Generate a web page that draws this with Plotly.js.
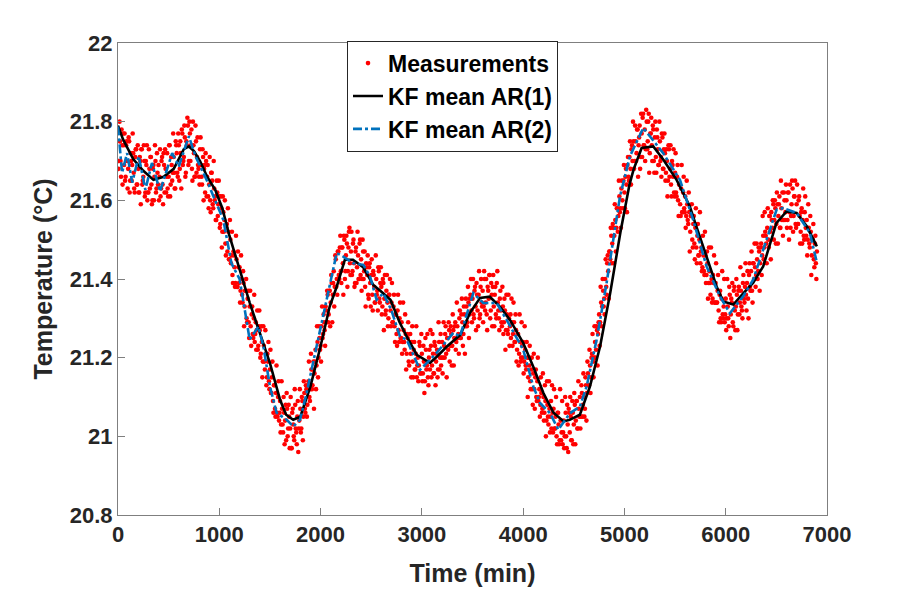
<!DOCTYPE html>
<html>
<head>
<meta charset="utf-8">
<script src="https://cdn.plot.ly/plotly-3.0.1.min.js"></script>
<style>
  html, body { margin: 0; padding: 0; background: #ffffff; }
  #chart { width: 913px; height: 589px; }
</style>
</head>
<body>
<div id="chart"></div>
<script>
// ─── Data ────────────────────────────────────────────────────────────────────

// Measurements, sampled every 10 min: set A at t = 0, 10, ... 6900
const measStep = 10;
const measTempA = [
  21.78, 21.70, 21.75, 21.66, 21.74, 21.77, 21.69, 21.65, 21.74, 21.70,
  21.68, 21.75, 21.65, 21.70, 21.69, 21.72, 21.63, 21.71, 21.73, 21.64,
  21.68, 21.62, 21.70, 21.73, 21.64, 21.66, 21.70, 21.62, 21.69, 21.60,
  21.62, 21.68, 21.71, 21.64, 21.60, 21.69, 21.66, 21.70, 21.63, 21.67,
  21.69, 21.66, 21.61, 21.70, 21.64, 21.72, 21.62, 21.68, 21.66, 21.63,
  21.66, 21.74, 21.64, 21.69, 21.67, 21.71, 21.63, 21.75, 21.72, 21.66,
  21.74, 21.68, 21.72, 21.78, 21.69, 21.71, 21.76, 21.67, 21.74, 21.79,
  21.70, 21.77, 21.74, 21.68, 21.80, 21.72, 21.66, 21.75, 21.71, 21.69,
  21.66, 21.73, 21.69, 21.64, 21.71, 21.68, 21.62, 21.70, 21.66, 21.61,
  21.64, 21.60, 21.67, 21.65, 21.58, 21.63, 21.61, 21.55, 21.62, 21.59,
  21.61, 21.54, 21.58, 21.52, 21.57, 21.55, 21.49, 21.53, 21.47, 21.52,
  21.45, 21.50, 21.46, 21.41, 21.47, 21.43, 21.39, 21.45, 21.38, 21.43,
  21.43, 21.37, 21.40, 21.34, 21.39, 21.33, 21.37, 21.30, 21.35, 21.29,
  21.33, 21.28, 21.31, 21.26, 21.30, 21.24, 21.29, 21.27, 21.22, 21.28,
  21.27, 21.21, 21.24, 21.19, 21.23, 21.17, 21.21, 21.15, 21.19, 21.14,
  21.17, 21.11, 21.15, 21.09, 21.13, 21.07, 21.11, 21.06, 21.10, 21.04,
  21.09, 21.03, 21.07, 21.01, 21.06, 21.04, 20.99, 21.07, 21.02, 21.05,
  21.02, 20.97, 21.06, 21.03, 20.99, 21.08, 21.01, 21.05, 20.96, 21.04,
  21.07, 21.02, 21.09, 21.05, 21.11, 21.06, 21.12, 21.08, 21.14, 21.10,
  21.12, 21.17, 21.13, 21.19, 21.16, 21.22, 21.18, 21.24, 21.20, 21.25,
  21.23, 21.28, 21.25, 21.31, 21.27, 21.33, 21.29, 21.36, 21.31, 21.37,
  21.34, 21.39, 21.36, 21.42, 21.38, 21.45, 21.40, 21.47, 21.41, 21.48,
  21.42, 21.48, 21.44, 21.51, 21.40, 21.46, 21.49, 21.42, 21.52, 21.44,
  21.47, 21.41, 21.49, 21.44, 21.39, 21.48, 21.43, 21.46, 21.40, 21.50,
  21.45, 21.40, 21.47, 21.42, 21.38, 21.44, 21.41, 21.36, 21.43, 21.39,
  21.41, 21.36, 21.42, 21.38, 21.34, 21.40, 21.37, 21.43, 21.35, 21.39,
  21.38, 21.33, 21.39, 21.35, 21.31, 21.37, 21.34, 21.30, 21.36, 21.32,
  21.34, 21.29, 21.33, 21.28, 21.31, 21.26, 21.32, 21.27, 21.30, 21.25,
  21.29, 21.24, 21.27, 21.22, 21.26, 21.21, 21.25, 21.19, 21.24, 21.21,
  21.24, 21.19, 21.22, 21.17, 21.21, 21.15, 21.20, 21.18, 21.23, 21.16,
  21.21, 21.16, 21.19, 21.14, 21.22, 21.18, 21.15, 21.20, 21.17, 21.23,
  21.18, 21.21, 21.16, 21.23, 21.19, 21.22, 21.17, 21.24, 21.20, 21.18,
  21.24, 21.20, 21.23, 21.26, 21.21, 21.25, 21.22, 21.27, 21.23, 21.26,
  21.23, 21.27, 21.25, 21.29, 21.24, 21.28, 21.26, 21.30, 21.25, 21.31,
  21.29, 21.26, 21.31, 21.28, 21.33, 21.29, 21.34, 21.31, 21.36, 21.32,
  21.35, 21.31, 21.37, 21.33, 21.39, 21.32, 21.36, 21.30, 21.38, 21.34,
  21.37, 21.33, 21.40, 21.34, 21.31, 21.38, 21.35, 21.41, 21.32, 21.36,
  21.38, 21.33, 21.36, 21.31, 21.39, 21.34, 21.30, 21.35, 21.32, 21.28,
  21.33, 21.29, 21.32, 21.27, 21.31, 21.26, 21.30, 21.28, 21.25, 21.29,
  21.26, 21.29, 21.24, 21.27, 21.22, 21.26, 21.21, 21.24, 21.20, 21.23,
  21.24, 21.19, 21.22, 21.17, 21.20, 21.15, 21.18, 21.14, 21.17, 21.12,
  21.16, 21.12, 21.15, 21.10, 21.14, 21.09, 21.12, 21.08, 21.11, 21.07,
  21.10, 21.06, 21.09, 21.04, 21.08, 21.03, 21.07, 21.05, 21.02, 21.06,
  21.07, 21.02, 21.05, 21.00, 21.06, 21.03, 20.99, 21.04, 21.01, 20.98,
  21.04, 21.00, 21.06, 20.97, 21.03, 21.07, 21.01, 21.05, 20.99, 21.06,
  21.03, 21.08, 21.04, 21.09, 21.02, 21.07, 21.10, 21.05, 21.11, 21.08,
  21.10, 21.07, 21.13, 21.11, 21.16, 21.13, 21.18, 21.15, 21.21, 21.19,
  21.20, 21.24, 21.22, 21.27, 21.26, 21.31, 21.29, 21.34, 21.33, 21.37,
  21.35, 21.40, 21.38, 21.44, 21.42, 21.47, 21.45, 21.51, 21.49, 21.53,
  21.51, 21.55, 21.53, 21.58, 21.56, 21.61, 21.58, 21.63, 21.60, 21.65,
  21.62, 21.66, 21.64, 21.69, 21.66, 21.71, 21.68, 21.73, 21.70, 21.75,
  21.70, 21.75, 21.72, 21.78, 21.74, 21.79, 21.71, 21.77, 21.81, 21.74,
  21.78, 21.73, 21.80, 21.75, 21.82, 21.72, 21.77, 21.74, 21.79, 21.70,
  21.76, 21.71, 21.78, 21.73, 21.69, 21.75, 21.71, 21.77, 21.68, 21.73,
  21.72, 21.67, 21.70, 21.65, 21.73, 21.68, 21.64, 21.70, 21.66, 21.62,
  21.67, 21.62, 21.66, 21.60, 21.64, 21.59, 21.63, 21.57, 21.62, 21.58,
  21.61, 21.56, 21.59, 21.54, 21.57, 21.52, 21.56, 21.50, 21.54, 21.49,
  21.53, 21.48, 21.51, 21.46, 21.50, 21.44, 21.48, 21.43, 21.46, 21.41,
  21.46, 21.41, 21.44, 21.39, 21.42, 21.36, 21.40, 21.35, 21.39, 21.34,
  21.39, 21.34, 21.37, 21.32, 21.36, 21.30, 21.35, 21.31, 21.33, 21.29,
  21.35, 21.30, 21.33, 21.28, 21.36, 21.31, 21.34, 21.29, 21.37, 21.32,
  21.33, 21.36, 21.31, 21.38, 21.34, 21.37, 21.32, 21.39, 21.35, 21.38,
  21.36, 21.39, 21.35, 21.41, 21.38, 21.42, 21.37, 21.44, 21.40, 21.43,
  21.41, 21.45, 21.42, 21.47, 21.44, 21.49, 21.46, 21.51, 21.48, 21.52,
  21.49, 21.53, 21.50, 21.56, 21.52, 21.57, 21.53, 21.59, 21.55, 21.58,
  21.54, 21.59, 21.56, 21.61, 21.53, 21.58, 21.62, 21.55, 21.60, 21.57,
  21.60, 21.55, 21.62, 21.57, 21.53, 21.59, 21.63, 21.56, 21.61, 21.54,
  21.59, 21.54, 21.60, 21.56, 21.52, 21.58, 21.55, 21.51, 21.57, 21.53,
  21.55, 21.50, 21.53, 21.48, 21.52, 21.46, 21.50, 21.45, 21.49, 21.44,
  21.47
];

// Measurements, set B at t = 5, 15, ... 6895 (the wider part of the scatter)
const measTempB = [
  21.68, 21.80, 21.70, 21.78, 21.64, 21.74, 21.77, 21.66, 21.75, 21.63,
  21.76, 21.62, 21.72, 21.65, 21.77, 21.67, 21.62, 21.73, 21.64, 21.74,
  21.62, 21.71, 21.59, 21.73, 21.65, 21.74, 21.61, 21.70, 21.74, 21.62,
  21.73, 21.63, 21.71, 21.59, 21.68, 21.60, 21.74, 21.62, 21.72, 21.64,
  21.60, 21.73, 21.63, 21.71, 21.59, 21.69, 21.73, 21.62, 21.72, 21.61,
  21.74, 21.61, 21.71, 21.65, 21.77, 21.67, 21.63, 21.74, 21.67, 21.77,
  21.65, 21.75, 21.63, 21.77, 21.70, 21.79, 21.66, 21.75, 21.81, 21.69,
  21.80, 21.70, 21.78, 21.65, 21.74, 21.66, 21.79, 21.67, 21.76, 21.68,
  21.64, 21.76, 21.66, 21.73, 21.60, 21.69, 21.72, 21.61, 21.69, 21.58,
  21.71, 21.57, 21.67, 21.59, 21.70, 21.60, 21.55, 21.65, 21.56, 21.65,
  21.53, 21.61, 21.48, 21.61, 21.52, 21.60, 21.46, 21.54, 21.58, 21.45,
  21.55, 21.44, 21.52, 21.39, 21.46, 21.38, 21.51, 21.38, 21.47, 21.39,
  21.34, 21.46, 21.36, 21.42, 21.28, 21.37, 21.40, 21.29, 21.37, 21.25,
  21.37, 21.23, 21.33, 21.25, 21.36, 21.26, 21.22, 21.32, 21.23, 21.32,
  21.20, 21.28, 21.15, 21.28, 21.19, 21.27, 21.13, 21.21, 21.24, 21.12,
  21.22, 21.11, 21.19, 21.06, 21.13, 21.05, 21.18, 21.05, 21.14, 21.06,
  21.01, 21.14, 21.03, 21.10, 20.98, 21.08, 21.11, 21.00, 21.08, 20.97,
  21.10, 20.97, 21.07, 21.00, 21.12, 21.02, 20.98, 21.09, 21.02, 21.12,
  21.01, 21.10, 20.99, 21.14, 21.07, 21.13, 21.05, 21.13, 21.19, 21.09,
  21.21, 21.12, 21.17, 21.07, 21.19, 21.12, 21.28, 21.15, 21.28, 21.22,
  21.19, 21.33, 21.26, 21.29, 21.23, 21.32, 21.37, 21.29, 21.37, 21.28,
  21.41, 21.29, 21.39, 21.33, 21.46, 21.38, 21.36, 21.47, 21.40, 21.51,
  21.39, 21.48, 21.36, 21.50, 21.42, 21.51, 21.38, 21.48, 21.53, 21.41,
  21.52, 21.42, 21.50, 21.38, 21.47, 21.39, 21.52, 21.40, 21.49, 21.41,
  21.37, 21.50, 21.40, 21.47, 21.33, 21.43, 21.46, 21.35, 21.44, 21.33,
  21.45, 21.32, 21.41, 21.34, 21.46, 21.36, 21.32, 21.42, 21.34, 21.43,
  21.31, 21.40, 21.27, 21.41, 21.32, 21.41, 21.28, 21.36, 21.40, 21.28,
  21.39, 21.29, 21.36, 21.24, 21.31, 21.23, 21.36, 21.24, 21.34, 21.25,
  21.21, 21.34, 21.24, 21.31, 21.17, 21.26, 21.29, 21.18, 21.26, 21.15,
  21.28, 21.15, 21.24, 21.17, 21.28, 21.18, 21.14, 21.24, 21.16, 21.26,
  21.14, 21.23, 21.11, 21.25, 21.17, 21.26, 21.13, 21.22, 21.27, 21.15,
  21.26, 21.16, 21.24, 21.13, 21.21, 21.15, 21.29, 21.17, 21.26, 21.20,
  21.16, 21.29, 21.20, 21.28, 21.15, 21.25, 21.29, 21.19, 21.28, 21.18,
  21.31, 21.18, 21.28, 21.22, 21.34, 21.25, 21.21, 21.32, 21.25, 21.35,
  21.23, 21.33, 21.21, 21.35, 21.28, 21.38, 21.25, 21.35, 21.40, 21.29,
  21.40, 21.30, 21.38, 21.27, 21.36, 21.28, 21.42, 21.31, 21.40, 21.33,
  21.29, 21.42, 21.32, 21.40, 21.27, 21.37, 21.41, 21.30, 21.39, 21.28,
  21.41, 21.28, 21.38, 21.30, 21.42, 21.32, 21.27, 21.37, 21.29, 21.38,
  21.26, 21.35, 21.22, 21.36, 21.27, 21.36, 21.23, 21.31, 21.35, 21.23,
  21.34, 21.24, 21.31, 21.19, 21.26, 21.18, 21.31, 21.19, 21.29, 21.20,
  21.16, 21.28, 21.18, 21.24, 21.10, 21.20, 21.23, 21.12, 21.20, 21.08,
  21.21, 21.07, 21.17, 21.09, 21.20, 21.10, 21.05, 21.15, 21.06, 21.16,
  21.04, 21.13, 21.00, 21.14, 21.05, 21.14, 21.01, 21.09, 21.13, 21.01,
  21.12, 21.02, 21.10, 20.98, 21.06, 20.98, 21.12, 20.99, 21.09, 21.01,
  20.97, 21.10, 21.00, 21.08, 20.96, 21.06, 21.10, 20.99, 21.09, 20.98,
  21.11, 20.98, 21.09, 21.02, 21.14, 21.05, 21.02, 21.13, 21.05, 21.16,
  21.05, 21.15, 21.04, 21.19, 21.13, 21.22, 21.11, 21.20, 21.26, 21.15,
  21.28, 21.20, 21.28, 21.18, 21.29, 21.23, 21.38, 21.28, 21.40, 21.33,
  21.31, 21.45, 21.36, 21.46, 21.35, 21.47, 21.53, 21.44, 21.54, 21.44,
  21.59, 21.47, 21.58, 21.52, 21.65, 21.57, 21.53, 21.65, 21.58, 21.69,
  21.58, 21.68, 21.57, 21.71, 21.65, 21.75, 21.64, 21.74, 21.80, 21.68,
  21.79, 21.70, 21.78, 21.66, 21.76, 21.68, 21.82, 21.71, 21.82, 21.74,
  21.70, 21.83, 21.73, 21.80, 21.67, 21.77, 21.81, 21.70, 21.78, 21.67,
  21.80, 21.67, 21.76, 21.69, 21.80, 21.70, 21.66, 21.76, 21.68, 21.77,
  21.65, 21.73, 21.61, 21.74, 21.66, 21.74, 21.61, 21.69, 21.73, 21.61,
  21.72, 21.61, 21.69, 21.56, 21.64, 21.56, 21.69, 21.57, 21.66, 21.57,
  21.53, 21.65, 21.55, 21.62, 21.47, 21.56, 21.59, 21.48, 21.56, 21.45,
  21.58, 21.44, 21.54, 21.46, 21.57, 21.47, 21.42, 21.51, 21.42, 21.52,
  21.39, 21.47, 21.35, 21.48, 21.39, 21.48, 21.34, 21.41, 21.46, 21.34,
  21.44, 21.34, 21.41, 21.29, 21.37, 21.29, 21.42, 21.30, 21.40, 21.31,
  21.27, 21.40, 21.30, 21.38, 21.25, 21.35, 21.39, 21.28, 21.38, 21.27,
  21.40, 21.27, 21.37, 21.31, 21.43, 21.33, 21.30, 21.41, 21.34, 21.44,
  21.32, 21.42, 21.30, 21.44, 21.37, 21.47, 21.34, 21.44, 21.49, 21.38,
  21.49, 21.40, 21.48, 21.37, 21.48, 21.41, 21.56, 21.45, 21.57, 21.51,
  21.44, 21.58, 21.48, 21.56, 21.45, 21.55, 21.60, 21.50, 21.60, 21.49,
  21.62, 21.49, 21.59, 21.53, 21.65, 21.55, 21.51, 21.62, 21.55, 21.64,
  21.53, 21.62, 21.50, 21.64, 21.56, 21.65, 21.52, 21.61, 21.65, 21.53,
  21.64, 21.54, 21.61, 21.49, 21.57, 21.49, 21.63, 21.50, 21.61, 21.51,
  21.46, 21.59, 21.49, 21.56, 21.41, 21.50, 21.54, 21.43, 21.51, 21.40
];

// sample instants of the two measurement sets
const measTime = measTempA.map((_, i) => i * measStep)
  .concat(measTempB.map((_, i) => i * measStep + measStep / 2));
const measTemp = measTempA.concat(measTempB);

// Kalman filter mean, AR(1) model
const ar1Time = [
  0, 50, 150, 250, 350, 450, 550, 650, 700, 750, 810, 880, 960, 1030, 1100,
  1200, 1300, 1400, 1500, 1600, 1660, 1730, 1800, 1900, 2000, 2090, 2160,
  2240, 2320, 2420, 2520, 2590, 2690, 2780, 2850, 2950, 3080, 3150, 3250,
  3380, 3475, 3575, 3670, 3770, 3870, 4000, 4100, 4200, 4300, 4400, 4460,
  4560, 4660, 4760, 4860, 4960, 5050, 5090, 5170, 5285, 5385, 5515, 5645,
  5710, 5810, 5910, 5975, 6075, 6175, 6270, 6370, 6500, 6600, 6700, 6800, 6900
];
const ar1Temp = [
  21.79, 21.755, 21.705, 21.675, 21.652, 21.66, 21.68, 21.73, 21.737, 21.725,
  21.70, 21.66, 21.627, 21.58, 21.51, 21.425, 21.34, 21.263, 21.186, 21.093,
  21.055, 21.042, 21.05, 21.127, 21.229, 21.33, 21.381, 21.449, 21.449, 21.43,
  21.385, 21.37, 21.347, 21.29, 21.254, 21.207, 21.187, 21.203, 21.229, 21.258,
  21.314, 21.352, 21.355, 21.33, 21.296, 21.238, 21.177, 21.11, 21.06, 21.038,
  21.042, 21.055, 21.127, 21.229, 21.365, 21.518, 21.64, 21.678, 21.733, 21.737,
  21.703, 21.652, 21.585, 21.534, 21.457, 21.381, 21.343, 21.335, 21.364, 21.39,
  21.432, 21.542, 21.572, 21.568, 21.534, 21.483
];

// Kalman filter mean, AR(2) model
const ar2Time = [
  0, 40, 90, 140, 205, 270, 335, 415, 535, 600, 700, 765, 875, 960, 1040,
  1120, 1200, 1240, 1300, 1385, 1435, 1500, 1566, 1665, 1731, 1797, 1862,
  1961, 2060, 2159, 2224, 2323, 2422, 2488, 2553, 2619, 2700, 2784, 2850,
  2981, 3047, 3146, 3310, 3376, 3508, 3606, 3738, 3837, 4001, 4100, 4166,
  4265, 4347, 4462, 4561, 4627, 4726, 4824, 4890, 4956, 5054, 5186, 5383,
  5548, 5679, 5811, 5943, 6041, 6173, 6271, 6403, 6502, 6568, 6700, 6831, 6897
];
const ar2Temp = [
  21.788, 21.67, 21.72, 21.645, 21.712, 21.627, 21.695, 21.623, 21.72, 21.686,
  21.763, 21.712, 21.652, 21.60, 21.55, 21.44, 21.40, 21.34, 21.246, 21.279,
  21.229, 21.127, 21.06, 21.042, 21.025, 21.042, 21.11, 21.229, 21.347, 21.466,
  21.457, 21.44, 21.436, 21.407, 21.347, 21.364, 21.32, 21.254, 21.246, 21.169,
  21.186, 21.212, 21.263, 21.254, 21.364, 21.339, 21.339, 21.296, 21.22, 21.127,
  21.085, 21.059, 21.017, 21.059, 21.076, 21.127, 21.246, 21.39, 21.50, 21.61,
  21.712, 21.784, 21.72, 21.652, 21.55, 21.432, 21.356, 21.313, 21.356, 21.398,
  21.50, 21.576, 21.58, 21.568, 21.517, 21.445
];

const xTicks = [0, 1000, 2000, 3000, 4000, 5000, 6000, 7000];
const yTicks = [20.8, 21, 21.2, 21.4, 21.6, 21.8, 22];

// ─── Traces ──────────────────────────────────────────────────────────────────

const FONT = 'Liberation Sans, Arial, Helvetica, sans-serif';
const INK = '#262626';

const traces = [
  {
    type: 'scatter', mode: 'markers',
    x: measTime, y: measTemp,
    name: 'Measurements',
    marker: { color: '#ff0000', size: 4.6 },
  },
  {
    type: 'scatter', mode: 'lines',
    x: ar1Time, y: ar1Temp,
    name: 'KF mean AR(1)',
    line: { color: '#000000', width: 2.6 },
  },
  {
    type: 'scatter', mode: 'lines',
    x: ar2Time, y: ar2Temp,
    name: 'KF mean AR(2)',
    line: { color: '#0072bd', width: 2.6, dash: 'dashdot' },
  },
];

// ─── Layout ──────────────────────────────────────────────────────────────────

const axisCommon = {
  showline: true, mirror: true,
  linecolor: '#7f7f7f', linewidth: 1,
  ticks: 'inside', ticklen: 7, tickwidth: 1, tickcolor: '#7f7f7f',
  showgrid: false, zeroline: false,
  tickfont: { family: FONT, size: 22, color: INK, weight: 'bold' },
};

const layout = {
  width: 913, height: 589,
  paper_bgcolor: '#ffffff', plot_bgcolor: '#ffffff',
  margin: { l: 118, r: 86, t: 43, b: 74 },
  font: { family: FONT, color: INK },
  showlegend: true,
  legend: {
    x: 0.323, xanchor: 'left', y: 1.005, yanchor: 'top',
    bgcolor: '#ffffff', bordercolor: '#262626', borderwidth: 1,
    font: { family: FONT, size: 23, color: '#000000', weight: 'bold' },
    tracegroupgap: 0,
  },
  xaxis: Object.assign({}, axisCommon, {
    range: [0, 7000],
    tickvals: xTicks,
    title: { text: 'Time (min)', font: { family: FONT, size: 25, color: INK, weight: 'bold' }, standoff: 18 },
  }),
  yaxis: Object.assign({}, axisCommon, {
    range: [20.8, 22],
    tickvals: yTicks,
    ticktext: yTicks.map(v => String(v)),
    title: { text: 'Temperature (°C)', font: { family: FONT, size: 25, color: INK, weight: 'bold' }, standoff: 10 },
  }),
};

Plotly.newPlot('chart', traces, layout, { displayModeBar: false, responsive: false });
</script>
</body>
</html>
